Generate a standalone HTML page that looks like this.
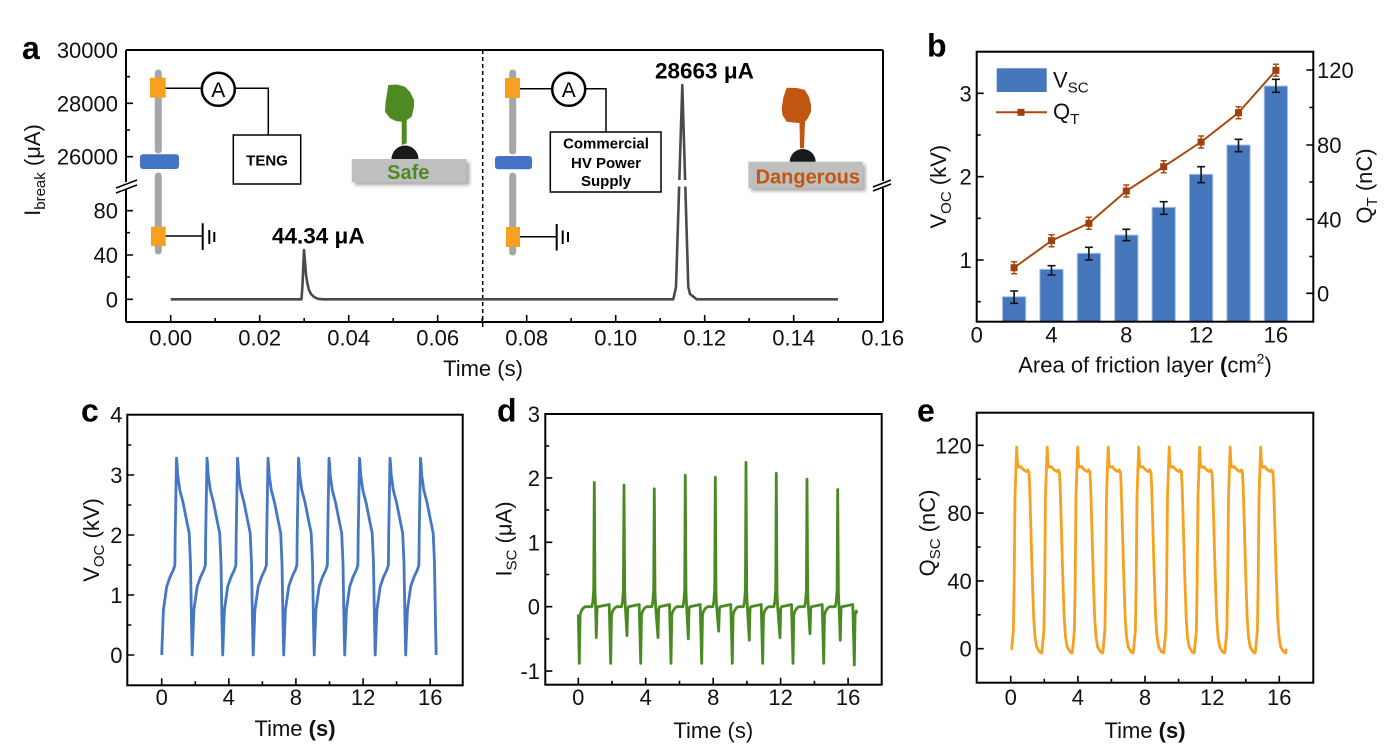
<!DOCTYPE html>
<html><head><meta charset="utf-8"><style>
html,body{margin:0;padding:0;background:#fff;}
svg{display:block;font-family:"Liberation Sans",Arial,sans-serif;}
</style></head><body>
<svg width="1384" height="750" viewBox="0 0 1384 750" xmlns="http://www.w3.org/2000/svg">
<defs>
<filter id="sh" x="-10%" y="-30%" width="130%" height="180%"><feDropShadow dx="3" dy="3" stdDeviation="1.5" flood-color="#777" flood-opacity="0.6"/></filter>
</defs>
<rect width="1384" height="750" fill="#fff"/>

<!-- ================= PANEL A ================= -->
<text x="22" y="59" font-size="32" font-weight="bold">a</text>
<!-- axes -->
<g stroke="#000" stroke-width="2" fill="none">
<path d="M126,50H883M126,322H883"/>
<path d="M126,50V182M126,189V322"/>
<path d="M883,50V181M883,188V322"/>
</g>
<g stroke="#000" stroke-width="1.6">
<path d="M116,193L137,185M116,188L137,180"/>
<path d="M873,191L891,184M873,187L891,180"/>
<path d="M126,103.3h7M126,156.7h7M126,210.7h7M126,255h7M126,299.3h7M126,76.7h4M126,130h4M126,232.7h4M126,277h4"/>
<path d="M170.7,322v-7M259.7,322v-7M348.7,322v-7M437.7,322v-7M526.7,322v-7M615.7,322v-7M704.7,322v-7M793.7,322v-7M215.2,322v-4M304.2,322v-4M393.2,322v-4M482.2,322v-4M571.2,322v-4M660.2,322v-4M749.2,322v-4M838.2,322v-4"/>
</g>
<!-- dashed divider -->
<line x1="482.7" y1="50" x2="482.7" y2="327" stroke="#000" stroke-width="1.5" stroke-dasharray="4,3"/>
<!-- y tick labels -->
<g font-size="22" fill="#111" text-anchor="end">
<text x="118" y="58">30000</text>
<text x="118" y="111.3">28000</text>
<text x="118" y="164.7">26000</text>
<text x="118" y="218.7">80</text>
<text x="118" y="263">40</text>
<text x="118" y="307.3">0</text>
</g>
<g font-size="22" fill="#111" text-anchor="middle">
<text x="170.7" y="345.5">0.00</text>
<text x="259.7" y="345.5">0.02</text>
<text x="348.7" y="345.5">0.04</text>
<text x="437.7" y="345.5">0.06</text>
<text x="526.7" y="345.5">0.08</text>
<text x="615.7" y="345.5">0.10</text>
<text x="704.7" y="345.5">0.12</text>
<text x="793.7" y="345.5">0.14</text>
<text x="882.7" y="345.5">0.16</text>
<text x="483" y="376">Time (s)</text>
</g>
<text transform="translate(40,170) rotate(-90)" font-size="22" fill="#111" text-anchor="middle">I<tspan font-size="15" dy="5">break</tspan><tspan dy="-5"> (μA)</tspan></text>

<!-- trace a -->
<path d="M170.7,299.3 L301.5,299.3 L302.5,285 L304,250 L305,262 L306,275 L307.5,284 L309,290 L311,294 L314,297 L318,298.8 L323,299.3 L673.3,299.3 L676,287 L682.3,85 L688.3,287 L690,294 L696.7,299.3 L838,299.3" fill="none" stroke="#4a4a4a" stroke-width="2.6" stroke-linejoin="round"/>
<rect x="675" y="180" width="15" height="6.5" fill="#fff"/>
<text x="272" y="243.3" font-size="22.5" font-weight="bold">44.34 μA</text>
<text x="655" y="78.3" font-size="22.5" font-weight="bold">28663 μA</text>

<!-- circuit left -->
<g>
<line x1="158.3" y1="73" x2="158.3" y2="150" stroke="#a6a6a6" stroke-width="7" stroke-linecap="round"/>
<line x1="158.3" y1="176" x2="158.3" y2="251" stroke="#a6a6a6" stroke-width="7" stroke-linecap="round"/>
<rect x="140" y="154.3" width="39" height="14.7" rx="3" fill="#4472c4"/>
<rect x="150" y="77.7" width="15.7" height="20" fill="#f7a021"/>
<rect x="151" y="226.7" width="14.7" height="19.3" fill="#f7a021"/>
<g stroke="#000" stroke-width="1.5" fill="none">
<path d="M165.7,88.3H201.7M235,88.3H268.3V135"/>
<path d="M165.7,236H202.7"/>
</g>
<circle cx="218.3" cy="89.3" r="16.5" fill="#fff" stroke="#000" stroke-width="2.5"/>
<text x="218.3" y="97" font-size="21" text-anchor="middle">A</text>
<rect x="233.3" y="135" width="67.4" height="49" fill="#fff" stroke="#000" stroke-width="1.5"/>
<text x="267" y="165.7" font-size="15" font-weight="bold" text-anchor="middle">TENG</text>
<g stroke="#000" stroke-width="2"><path d="M202.7,223.3V250M209.3,230V244M214.3,232V242"/></g>
</g>

<!-- Safe -->
<circle cx="405" cy="159" r="13.5" fill="#1a1a1a"/>
<rect x="351.7" y="159" width="115" height="23.3" fill="#bfbfbf" filter="url(#sh)"/>
<path d="M388.3,85 L397,84.5 L405,86.7 L410,92 L414,100 L414,106.7 L411.7,116.7 L406.7,120 L406.7,143.3 L401.7,145 L401.7,121.7 L396,121 L390,118.3 L385,111.7 L385.5,103 L386.7,95 Z" fill="#4e8a22"/>
<text x="408.3" y="179" font-size="20" font-weight="bold" fill="#4e8a22" text-anchor="middle">Safe</text>

<!-- circuit right -->
<g>
<line x1="512.7" y1="73" x2="512.7" y2="151" stroke="#a6a6a6" stroke-width="7" stroke-linecap="round"/>
<line x1="512.7" y1="176" x2="512.7" y2="252" stroke="#a6a6a6" stroke-width="7" stroke-linecap="round"/>
<rect x="495" y="156" width="37" height="13.3" rx="3" fill="#4472c4"/>
<rect x="505" y="78" width="15" height="20" fill="#f7a021"/>
<rect x="506" y="227" width="14" height="20" fill="#f7a021"/>
<g stroke="#000" stroke-width="1.5" fill="none">
<path d="M520,88.7H552M585.3,88.7H606V132"/>
<path d="M520,236.7H556.7"/>
</g>
<circle cx="568.7" cy="89.3" r="16.5" fill="#fff" stroke="#000" stroke-width="2.5"/>
<text x="568.7" y="97" font-size="21" text-anchor="middle">A</text>
<rect x="550.3" y="132" width="110.7" height="60" fill="#fff" stroke="#000" stroke-width="1.5"/>
<g font-size="15" font-weight="bold" text-anchor="middle">
<text x="606" y="148.5">Commercial</text>
<text x="606" y="168">HV Power</text>
<text x="606" y="186">Supply</text>
</g>
<g stroke="#000" stroke-width="2"><path d="M556.7,224V250.5M562.7,230.5V244M568,232V242"/></g>
</g>

<!-- Dangerous -->
<circle cx="802.7" cy="162" r="13" fill="#1a1a1a"/>
<rect x="748.3" y="161.7" width="114.4" height="26.6" fill="#bfbfbf" filter="url(#sh)"/>
<path d="M786.7,87.7 L797,88 L805,90 L809,97 L811,105 L811,111.7 L808,118 L805,121.7 L804,148.3 L800,148.3 L799.5,123 L793,122.5 L786.7,121.7 L782.5,115 L781.7,108.3 L783.5,97 Z" fill="#c0560f"/>
<text x="807.8" y="183.3" font-size="20" font-weight="bold" fill="#c0560f" text-anchor="middle">Dangerous</text>

<!-- ================= PANEL B ================= -->
<text x="927" y="56.7" font-size="32" font-weight="bold">b</text>
<g stroke="#000" stroke-width="1.6">
<path d="M976.7,93.3h7M976.7,176.7h7M976.7,260h7M976.7,135h4M976.7,218.3h4M976.7,301.7h4"/>
<path d="M1313.3,70h-7M1313.3,145h-7M1313.3,219.3h-7M1313.3,293.3h-7M1313.3,107.5h-4M1313.3,182h-4M1313.3,256.5h-4"/>
<path d="M1051.5,321.7v-7M1126.3,321.7v-7M1201.1,321.7v-7M1275.9,321.7v-7"/>
</g>
<g fill="#4677bd" stroke="#a9c4e8" stroke-width="1">
<rect x="1002.45" y="296.7" width="23.3" height="25"/>
<rect x="1039.85" y="269.3" width="23.3" height="52.4"/>
<rect x="1077.25" y="253.3" width="23.3" height="68.4"/>
<rect x="1114.65" y="235" width="23.3" height="86.7"/>
<rect x="1152.05" y="207.3" width="23.3" height="114.4"/>
<rect x="1189.45" y="174.3" width="23.3" height="147.4"/>
<rect x="1226.85" y="145" width="23.3" height="176.7"/>
<rect x="1264.25" y="86" width="23.3" height="235.7"/>
</g>
<g stroke="#111" stroke-width="1.6" fill="none">
<path d="M1014.1,291V303.3M1010.1,291h8M1010.1,303.3h8"/>
<path d="M1051.5,265.7V275M1047.5,265.7h8M1047.5,275h8"/>
<path d="M1088.9,247.3V260M1084.9,247.3h8M1084.9,260h8"/>
<path d="M1126.3,229.3V240.7M1122.3,229.3h8M1122.3,240.7h8"/>
<path d="M1163.7,201.7V214.3M1159.7,201.7h8M1159.7,214.3h8"/>
<path d="M1201.1,166.7V182.7M1197.1,166.7h8M1197.1,182.7h8"/>
<path d="M1238.5,139.3V151.7M1234.5,139.3h8M1234.5,151.7h8"/>
<path d="M1275.9,79.3V92.3M1271.9,79.3h8M1271.9,92.3h8"/>
</g>
<!-- Q line -->
<g stroke="#a84a12" fill="none">
<path d="M1014.1,267.7L1051.5,240.7L1088.9,223.3L1126.3,191L1163.7,166.7L1201.1,142L1238.5,112.7L1275.9,70.3" stroke-width="2"/>
<path stroke-width="1.5" d="M1014.1,261.7v12M1011.1,261.7h6M1011.1,273.7h6M1051.5,234.7v12M1048.5,234.7h6M1048.5,246.7h6M1088.9,217.3v12M1085.9,217.3h6M1085.9,229.3h6M1126.3,185v12M1123.3,185h6M1123.3,197h6M1163.7,160.7v12M1160.7,160.7h6M1160.7,172.7h6M1201.1,136v12M1198.1,136h6M1198.1,148h6M1238.5,106.7v12M1235.5,106.7h6M1235.5,118.7h6M1275.9,64.3v12M1272.9,64.3h6M1272.9,76.3h6"/>
</g>
<g fill="#a0400c">
<rect x="1010.6" y="264.2" width="7" height="7"/>
<rect x="1048" y="237.2" width="7" height="7"/>
<rect x="1085.4" y="219.8" width="7" height="7"/>
<rect x="1122.8" y="187.5" width="7" height="7"/>
<rect x="1160.2" y="163.2" width="7" height="7"/>
<rect x="1197.6" y="138.5" width="7" height="7"/>
<rect x="1235" y="109.2" width="7" height="7"/>
<rect x="1272.4" y="66.8" width="7" height="7"/>
</g>
<rect x="976.7" y="51.7" width="336.6" height="270" fill="none" stroke="#000" stroke-width="2"/>
<!-- legend -->
<rect x="996.7" y="68.3" width="50" height="23.7" fill="#4677bd"/>
<line x1="996" y1="112.3" x2="1047" y2="112.3" stroke="#a84a12" stroke-width="2"/>
<rect x="1017.5" y="108.8" width="7" height="7" fill="#a0400c"/>
<text x="1053" y="87.3" font-size="22" fill="#111">V<tspan font-size="15" dy="5">SC</tspan></text>
<text x="1053" y="119" font-size="22" fill="#111">Q<tspan font-size="15" dy="5">T</tspan></text>
<!-- tick labels -->
<g font-size="22" fill="#111" text-anchor="end">
<text x="971.7" y="101.3">3</text>
<text x="971.7" y="184.7">2</text>
<text x="971.7" y="268">1</text>
</g>
<g font-size="22" fill="#111">
<text x="1317" y="78">120</text>
<text x="1317" y="153">80</text>
<text x="1317" y="227.3">40</text>
<text x="1317" y="301.3">0</text>
</g>
<g font-size="22" fill="#111" text-anchor="middle">
<text x="976.7" y="342.7">0</text>
<text x="1051.5" y="342.7">4</text>
<text x="1126.3" y="342.7">8</text>
<text x="1201.1" y="342.7">12</text>
<text x="1275.9" y="342.7">16</text>
<text x="1145" y="372.7">Area of friction layer <tspan font-weight="bold">(</tspan>cm<tspan font-size="14" dy="-9">2</tspan><tspan dy="9">)</tspan></text>
</g>
<text transform="translate(946,186.7) rotate(-90)" font-size="22" fill="#111" text-anchor="middle">V<tspan font-size="15" dy="5">OC</tspan><tspan dy="-5"> (kV)</tspan></text>
<text transform="translate(1372,186) rotate(-90)" font-size="22" fill="#111" text-anchor="middle">Q<tspan font-size="15" dy="5">T</tspan><tspan dy="-5"> (nC)</tspan></text>

<!-- ================= PANEL C ================= -->
<text x="81" y="421.7" font-size="32" font-weight="bold">c</text>
<g stroke="#000" stroke-width="1.6">
<path d="M127.3,655h7M127.3,595h7M127.3,535h7M127.3,475h7M127.3,625h4M127.3,565h4M127.3,505h4M127.3,445h4"/>
<path d="M161.7,685.3v-7M228.8,685.3v-7M295.9,685.3v-7M363.1,685.3v-7M430.2,685.3v-7M195.3,685.3v-4M262.4,685.3v-4M329.5,685.3v-4M396.6,685.3v-4"/>
</g>
<path d="M161.7,655 l1.7,-45 l3.3,-23.4 l3.3,-9.6 l3.4,-7.2 l1.5,-4.8 l0.3,-30 l1.3,-76.8 l0.5,4.8 l0.7,12 l2.1,15 l3.4,13.2 l3.3,16.8 l2.7,13.2 l1.3,30 l1,60 l0.7,31.8 l1.7,-45 l3.3,-23.4 l3.3,-9.6 l3.4,-7.2 l1.5,-4.8 l0.3,-30 l1.3,-76.8 l0.5,4.8 l0.7,12 l2.1,15 l3.4,13.2 l3.3,16.8 l2.7,13.2 l1.3,30 l1,60 l0.7,31.8 l1.7,-45 l3.3,-23.4 l3.3,-9.6 l3.4,-7.2 l1.5,-4.8 l0.3,-30 l1.3,-76.8 l0.5,4.8 l0.7,12 l2.1,15 l3.4,13.2 l3.3,16.8 l2.7,13.2 l1.3,30 l1,60 l0.7,31.8 l1.7,-45 l3.3,-23.4 l3.3,-9.6 l3.4,-7.2 l1.5,-4.8 l0.3,-30 l1.3,-76.8 l0.5,4.8 l0.7,12 l2.1,15 l3.4,13.2 l3.3,16.8 l2.7,13.2 l1.3,30 l1,60 l0.7,31.8 l1.7,-45 l3.3,-23.4 l3.3,-9.6 l3.4,-7.2 l1.5,-4.8 l0.3,-30 l1.3,-76.8 l0.5,4.8 l0.7,12 l2.1,15 l3.4,13.2 l3.3,16.8 l2.7,13.2 l1.3,30 l1,60 l0.7,31.8 l1.7,-45 l3.3,-23.4 l3.3,-9.6 l3.4,-7.2 l1.5,-4.8 l0.3,-30 l1.3,-76.8 l0.5,4.8 l0.7,12 l2.1,15 l3.4,13.2 l3.3,16.8 l2.7,13.2 l1.3,30 l1,60 l0.7,31.8 l1.7,-45 l3.3,-23.4 l3.3,-9.6 l3.4,-7.2 l1.5,-4.8 l0.3,-30 l1.3,-76.8 l0.5,4.8 l0.7,12 l2.1,15 l3.4,13.2 l3.3,16.8 l2.7,13.2 l1.3,30 l1,60 l0.7,31.8 l1.7,-45 l3.3,-23.4 l3.3,-9.6 l3.4,-7.2 l1.5,-4.8 l0.3,-30 l1.3,-76.8 l0.5,4.8 l0.7,12 l2.1,15 l3.4,13.2 l3.3,16.8 l2.7,13.2 l1.3,30 l1,60 l0.7,31.8 l1.7,-45 l3.3,-23.4 l3.3,-9.6 l3.4,-7.2 l1.5,-4.8 l0.3,-30 l1.3,-76.8 l0.5,4.8 l0.7,12 l2.1,15 l3.4,13.2 l3.3,16.8 l2.7,13.2 l1.3,30 l1,60 l0.7,31.8" fill="none" stroke="#4677c4" stroke-width="2.8" stroke-linejoin="round"/>
<rect x="127.3" y="414.7" width="335.4" height="270.6" fill="none" stroke="#000" stroke-width="2"/>
<g font-size="22" fill="#111" text-anchor="end">
<text x="122.5" y="663">0</text>
<text x="122.5" y="603">1</text>
<text x="122.5" y="543">2</text>
<text x="122.5" y="483">3</text>
<text x="122.5" y="422.7">4</text>
</g>
<g font-size="22" fill="#111" text-anchor="middle">
<text x="161.7" y="705">0</text>
<text x="228.8" y="705">4</text>
<text x="295.9" y="705">8</text>
<text x="363.1" y="705">12</text>
<text x="430.2" y="705">16</text>
<text x="295" y="736">Time <tspan font-weight="bold">(s)</tspan></text>
</g>
<text transform="translate(99,540) rotate(-90)" font-size="22" fill="#111" text-anchor="middle">V<tspan font-size="15" dy="5">OC</tspan><tspan dy="-5"> (kV)</tspan></text>

<!-- ================= PANEL D ================= -->
<text x="497" y="421.7" font-size="32" font-weight="bold">d</text>
<g stroke="#000" stroke-width="1.6">
<path d="M545.3,477.9h7M545.3,542.3h7M545.3,606.7h7M545.3,671.1h7M545.3,446h4M545.3,510h4M545.3,574.5h4M545.3,638.9h4"/>
<path d="M578.3,684.7v-7M645.7,684.7v-7M713.2,684.7v-7M780.6,684.7v-7M848.1,684.7v-7M612,684.7v-4M679.5,684.7v-4M746.9,684.7v-4M814.4,684.7v-4"/>
</g>
<path d="M578.3,614.4 L579.3,663.4 L580.1,615 L581.3,611 L583.3,608 L585.3,606.7 L591.8,606.7 L592.8,602 L593.7,590 L594.3,482.4 L595,592 L595.6,606 L596.3,637.6 L597,609 L597.8,606.7
L609.2,604.5 L610.7,663.4 L611.5,615 L612.7,611 L614.7,608 L616.7,606.7 L621.5,606.7 L622.5,602 L623.4,590 L624,485 L624.7,592 L625.3,606 L627,635.7 L627.7,609 L628.5,606.7
L639.2,604.5 L640.7,663.4 L641.5,615 L642.7,611 L644.7,608 L646.7,606.7 L651.8,606.7 L652.8,602 L653.7,590 L654.3,488.8 L655,592 L655.6,606 L658,637.6 L658.7,609 L659.5,606.7
L669.5,604.5 L671,663.4 L671.8,615 L673,611 L675,608 L677,606.7 L682.8,606.7 L683.8,602 L684.7,590 L685.3,475.3 L686,592 L686.6,606 L688.3,638.9 L689,609 L689.8,606.7
L700.2,604.5 L701.7,663.4 L702.5,615 L703.7,611 L705.7,608 L707.7,606.7 L712.8,606.7 L713.8,602 L714.7,590 L715.3,477.3 L716,592 L716.6,606 L718.7,631.2 L719.4,609 L720.2,606.7
L730.8,604.5 L732.3,663.4 L733.1,615 L734.3,611 L736.3,608 L738.3,606.7 L743.5,606.7 L744.5,602 L745.4,590 L746,462.4 L746.7,592 L747.3,606 L749.3,640.2 L750,609 L750.8,606.7
L761.2,604.5 L762.7,663.4 L763.5,615 L764.7,611 L766.7,608 L768.7,606.7 L773.8,606.7 L774.8,602 L775.7,590 L776.3,473.4 L777,592 L777.6,606 L780,637.6 L780.7,609 L781.5,606.7
L791.5,604.5 L793,663.4 L793.8,615 L795,611 L797,608 L799,606.7 L804.5,606.7 L805.5,602 L806.4,590 L807,479.2 L807.7,592 L808.3,606 L810,633.7 L810.7,609 L811.5,606.7
L822.2,604.5 L823.7,663.4 L824.5,615 L825.7,611 L827.7,608 L829.7,606.7 L835.2,606.7 L836.2,602 L837.1,590 L837.7,489.5 L838.4,592 L839,606 L840.3,640.2 L841,609 L841.8,606.7
L852.8,604.5 L854.3,665 L855.1,615 L856.3,611 L857,613" fill="none" stroke="#4b8a23" stroke-width="2.8" stroke-linejoin="round"/>
<rect x="545.3" y="414" width="336.4" height="270.7" fill="none" stroke="#000" stroke-width="2"/>
<g font-size="22" fill="#111" text-anchor="end">
<text x="540" y="422">3</text>
<text x="540" y="485.9">2</text>
<text x="540" y="550.3">1</text>
<text x="540" y="614.7">0</text>
<text x="540" y="679.1">-1</text>
</g>
<g font-size="22" fill="#111" text-anchor="middle">
<text x="578.3" y="705">0</text>
<text x="645.7" y="705">4</text>
<text x="713.2" y="705">8</text>
<text x="780.6" y="705">12</text>
<text x="848.1" y="705">16</text>
<text x="713.3" y="738">Time (s)</text>
</g>
<text transform="translate(511.7,539) rotate(-90)" font-size="22" fill="#111" text-anchor="middle">I<tspan font-size="15" dy="5">SC</tspan><tspan dy="-5"> (μA)</tspan></text>

<!-- ================= PANEL E ================= -->
<text x="917" y="421.7" font-size="32" font-weight="bold">e</text>
<g stroke="#000" stroke-width="1.6">
<path d="M976.7,445.3h7M976.7,513.1h7M976.7,580.9h7M976.7,648.7h7M976.7,479.2h4M976.7,547h4M976.7,614.8h4"/>
<path d="M1010.7,682.7v-7M1077.9,682.7v-7M1145,682.7v-7M1212.2,682.7v-7M1279.3,682.7v-7M1044.3,682.7v-4M1111.4,682.7v-4M1178.6,682.7v-4M1245.8,682.7v-4"/>
</g>
<path d="M1010.7,648.7 L1011.7,648.7 l1.7,-18.6 l0.8,-49.2 l0.8,-84.8 l1,-28.8 l0.7,-20.3 l0.5,11.9 l0.5,6.7 l1,1.7 l2,-0.8 l2,2.5 l2,1.7 l2,0.9 l1,-1.7 l1.3,2.5 l0.7,15.3 l1,33.9 l1,35.6 l1,32.2 l1,28.8 l1.3,18.6 l1.7,10.2 l3,5.1 l2,0.8 l0.5,-4.2 l1.7,-18.6 l0.8,-49.2 l0.8,-84.8 l1,-28.8 l0.7,-20.3 l0.5,11.9 l0.5,6.7 l1,1.7 l2,-0.8 l2,2.5 l2,1.7 l2,0.9 l1,-1.7 l1.3,2.5 l0.7,15.3 l1,33.9 l1,35.6 l1,32.2 l1,28.8 l1.3,18.6 l1.7,10.2 l3,5.1 l2,0.8 l0.5,-4.2 l1.7,-18.6 l0.8,-49.2 l0.8,-84.8 l1,-28.8 l0.7,-20.3 l0.5,11.9 l0.5,6.7 l1,1.7 l2,-0.8 l2,2.5 l2,1.7 l2,0.9 l1,-1.7 l1.3,2.5 l0.7,15.3 l1,33.9 l1,35.6 l1,32.2 l1,28.8 l1.3,18.6 l1.7,10.2 l3,5.1 l2,0.8 l0.5,-4.2 l1.7,-18.6 l0.8,-49.2 l0.8,-84.8 l1,-28.8 l0.7,-20.3 l0.5,11.9 l0.5,6.7 l1,1.7 l2,-0.8 l2,2.5 l2,1.7 l2,0.9 l1,-1.7 l1.3,2.5 l0.7,15.3 l1,33.9 l1,35.6 l1,32.2 l1,28.8 l1.3,18.6 l1.7,10.2 l3,5.1 l2,0.8 l0.5,-4.2 l1.7,-18.6 l0.8,-49.2 l0.8,-84.8 l1,-28.8 l0.7,-20.3 l0.5,11.9 l0.5,6.7 l1,1.7 l2,-0.8 l2,2.5 l2,1.7 l2,0.9 l1,-1.7 l1.3,2.5 l0.7,15.3 l1,33.9 l1,35.6 l1,32.2 l1,28.8 l1.3,18.6 l1.7,10.2 l3,5.1 l2,0.8 l0.5,-4.2 l1.7,-18.6 l0.8,-49.2 l0.8,-84.8 l1,-28.8 l0.7,-20.3 l0.5,11.9 l0.5,6.7 l1,1.7 l2,-0.8 l2,2.5 l2,1.7 l2,0.9 l1,-1.7 l1.3,2.5 l0.7,15.3 l1,33.9 l1,35.6 l1,32.2 l1,28.8 l1.3,18.6 l1.7,10.2 l3,5.1 l2,0.8 l0.5,-4.2 l1.7,-18.6 l0.8,-49.2 l0.8,-84.8 l1,-28.8 l0.7,-20.3 l0.5,11.9 l0.5,6.7 l1,1.7 l2,-0.8 l2,2.5 l2,1.7 l2,0.9 l1,-1.7 l1.3,2.5 l0.7,15.3 l1,33.9 l1,35.6 l1,32.2 l1,28.8 l1.3,18.6 l1.7,10.2 l3,5.1 l2,0.8 l0.5,-4.2 l1.7,-18.6 l0.8,-49.2 l0.8,-84.8 l1,-28.8 l0.7,-20.3 l0.5,11.9 l0.5,6.7 l1,1.7 l2,-0.8 l2,2.5 l2,1.7 l2,0.9 l1,-1.7 l1.3,2.5 l0.7,15.3 l1,33.9 l1,35.6 l1,32.2 l1,28.8 l1.3,18.6 l1.7,10.2 l3,5.1 l2,0.8 l0.5,-4.2 l1.7,-18.6 l0.8,-49.2 l0.8,-84.8 l1,-28.8 l0.7,-20.3 l0.5,11.9 l0.5,6.7 l1,1.7 l2,-0.8 l2,2.5 l2,1.7 l2,0.9 l1,-1.7 l1.3,2.5 l0.7,15.3 l1,33.9 l1,35.6 l1,32.2 l1,28.8 l1.3,18.6 l1.7,10.2 l3,5.1 l2,0.8 l0.5,-4.2" fill="none" stroke="#f7a021" stroke-width="2.8" stroke-linejoin="round"/>
<rect x="976.7" y="412.7" width="336.6" height="270" fill="none" stroke="#000" stroke-width="2"/>
<g font-size="22" fill="#111" text-anchor="end">
<text x="971.7" y="453.3">120</text>
<text x="971.7" y="521.1">80</text>
<text x="971.7" y="588.9">40</text>
<text x="971.7" y="656.7">0</text>
</g>
<g font-size="22" fill="#111" text-anchor="middle">
<text x="1010.7" y="705">0</text>
<text x="1077.9" y="705">4</text>
<text x="1145" y="705">8</text>
<text x="1212.2" y="705">12</text>
<text x="1279.3" y="705">16</text>
<text x="1145" y="738">Time <tspan font-weight="bold">(s)</tspan></text>
</g>
<text transform="translate(935,533) rotate(-90)" font-size="22" fill="#111" text-anchor="middle">Q<tspan font-size="15" dy="5">SC</tspan><tspan dy="-5"> (nC)</tspan></text>
</svg>
</body></html>
